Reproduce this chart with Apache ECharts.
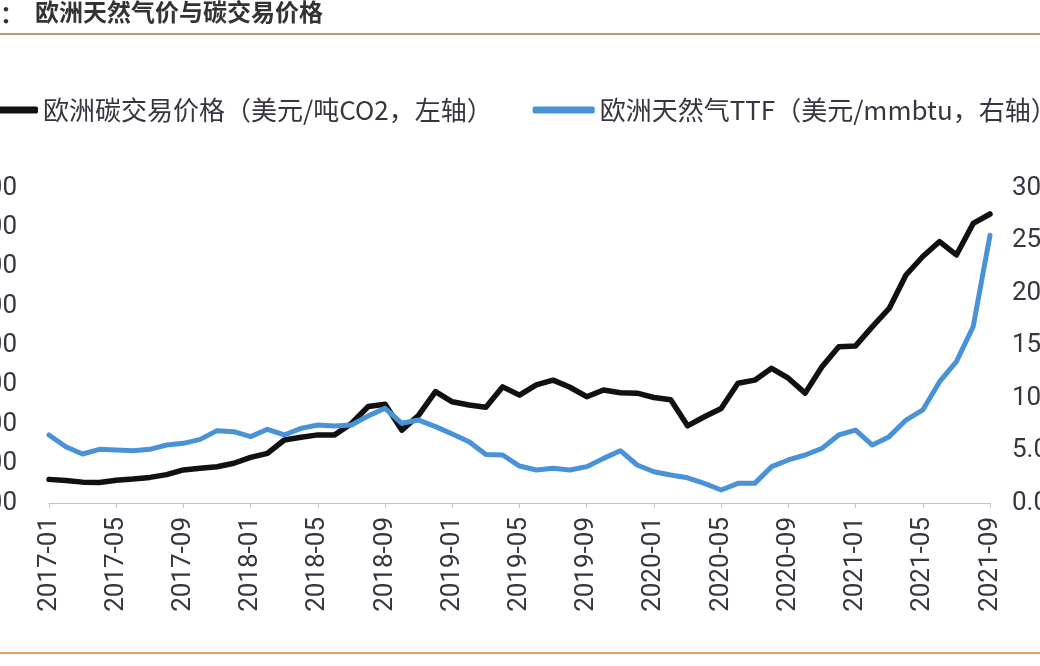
<!DOCTYPE html>
<html>
<head>
<meta charset="utf-8">
<script src="https://cdn.jsdelivr.net/npm/echarts@6/dist/echarts.min.js"></script>
<style>
html,body{margin:0;padding:0;background:#fff;}
#chart{width:1040px;height:666px;}
</style>
</head>
<body>
<div id="chart"></div>
<script>
var months = ['2017-01','2017-02','2017-03','2017-04','2017-05','2017-06','2017-07','2017-08','2017-09','2017-10','2017-11','2017-12',
'2018-01','2018-02','2018-03','2018-04','2018-05','2018-06','2018-07','2018-08','2018-09','2018-10','2018-11','2018-12',
'2019-01','2019-02','2019-03','2019-04','2019-05','2019-06','2019-07','2019-08','2019-09','2019-10','2019-11','2019-12',
'2020-01','2020-02','2020-03','2020-04','2020-05','2020-06','2020-07','2020-08','2020-09','2020-10','2020-11','2020-12',
'2021-01','2021-02','2021-03','2021-04','2021-05','2021-06','2021-07','2021-08','2021-09'];
var carbonPrice = [6.0,5.7,5.3,5.2,5.8,6.1,6.5,7.2,8.4,8.8,9.2,10.1,11.6,12.6,16.0,16.7,17.3,17.3,20.2,24.5,25.1,18.5,22.3,28.3,25.7,24.9,24.3,29.5,27.4,30.0,31.2,29.4,27.0,28.7,28.0,27.9,26.8,26.2,19.6,21.9,24.0,30.4,31.2,34.2,31.7,27.9,34.6,39.7,39.9,44.8,49.4,57.9,62.6,66.4,63.0,71.0,73.4];
var ttfPrice = [6.48,5.36,4.67,5.11,5.05,4.98,5.11,5.52,5.68,6.06,6.89,6.79,6.32,7.02,6.48,7.11,7.43,7.33,7.43,8.3,9.02,7.59,7.9,7.27,6.57,5.84,4.63,4.57,3.52,3.14,3.30,3.14,3.46,4.25,4.98,3.62,2.98,2.67,2.4,1.87,1.24,1.87,1.87,3.46,4.10,4.57,5.2,6.48,6.95,5.52,6.32,7.9,8.86,11.55,13.46,16.8,25.5];
var seriesNames = ['欧洲碳交易价格（美元/吨CO2，左轴）','欧洲天然气TTF（美元/mmbtu，右轴）'];
var titleText = '欧洲天然气价与碳交易价格';

var chart = echarts.init(document.getElementById('chart'));
var textColor = '#3a3340';
var option = {
  backgroundColor: '#ffffff',
  animation: false,
  graphic: [
    {type:'text', left: 0, top: 2, style:{text:'：', fontSize:24, fontWeight:'bold', fill:'#333', fontFamily:'Noto Sans CJK SC'}},
    {type:'text', left: 35, top: 0, style:{text:titleText, fontSize:24, fontWeight:'bold', fill:'#333', fontFamily:'Noto Sans CJK SC'}},
    {type:'rect', shape:{x:0, y:33, width:1040, height:2}, style:{fill:'#c8946a'}},
    {type:'rect', shape:{x:0, y:652, width:1040, height:2}, style:{fill:'#e8a060'}}
  ],
  legend: {
    left: -29,
    top: 92,
    width: 2000,
    itemWidth: 62,
    itemHeight: 7,
    itemGap: 40,
    icon: 'roundRect',
    textStyle: {fontSize: 26, color: textColor, fontFamily: 'Noto Sans CJK SC'},
    data: seriesNames
  },
  grid: {left: 49, right: 50, top: 188, bottom: 163, containLabel: false, outerBoundsMode: 'none'},
  xAxis: {
    type: 'category',
    data: months,
    boundaryGap: false,
    axisLine: {lineStyle: {color: '#c4c4c4', width: 1}},
    axisTick: {interval: 3, length: 5, lineStyle: {color: '#c4c4c4'}},
    axisLabel: {interval: 3, rotate: 90, margin: 14, fontSize: 26, color: textColor, fontFamily: 'Roboto'}
  },
  yAxis: [
    {
      type: 'value', min: 0, max: 80, interval: 10,
      axisLine: {show: false}, axisTick: {show: false}, splitLine: {show: false},
      axisLabel: {margin: 32, fontSize: 26, color: textColor, fontFamily: 'Roboto', formatter: function(v){return v.toFixed(2);}}
    },
    {
      type: 'value', min: 0, max: 30, interval: 5, position: 'right',
      axisLine: {show: false}, axisTick: {show: false}, splitLine: {show: false},
      axisLabel: {margin: 22, fontSize: 26, color: textColor, fontFamily: 'Roboto', formatter: function(v){return v.toFixed(1);}}
    }
  ],
  series: [
    {
      name: seriesNames[0], type: 'line', yAxisIndex: 0, data: carbonPrice,
      symbol: 'none', smooth: false,
      lineStyle: {color: '#111111', width: 5.5, join: 'round', cap: 'round'},
      itemStyle: {color: '#111111'}
    },
    {
      name: seriesNames[1], type: 'line', yAxisIndex: 1, data: ttfPrice,
      symbol: 'none', smooth: false,
      lineStyle: {color: '#4a92d8', width: 5, join: 'round', cap: 'round'},
      itemStyle: {color: '#4a92d8'}
    }
  ]
};
chart.setOption(option);
</script>
</body>
</html>
